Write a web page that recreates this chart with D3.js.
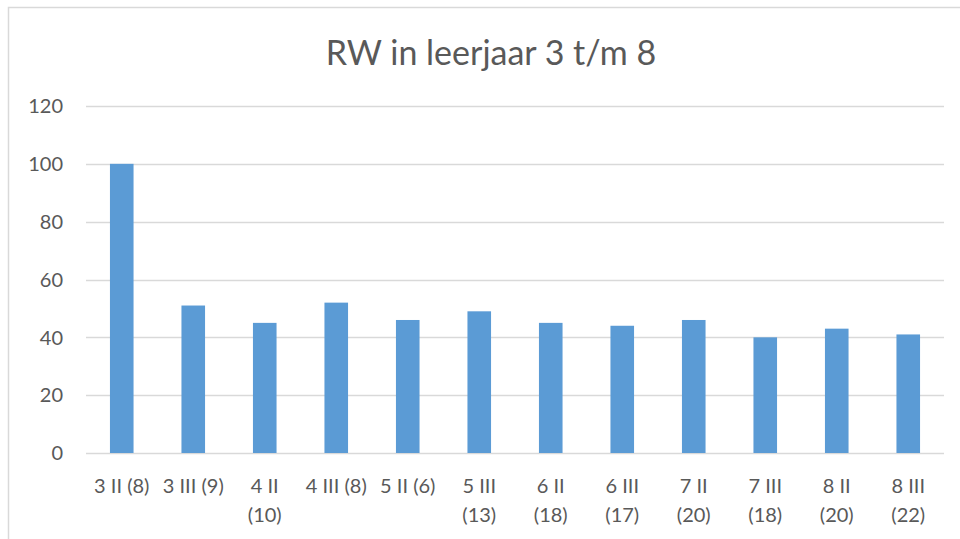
<!DOCTYPE html>
<html>
<head>
<meta charset="utf-8">
<script src="https://cdn.jsdelivr.net/npm/d3@7"></script>
<style>
  body { margin: 0; background: #fff; }
  svg { display: block; }
</style>
</head>
<body>
<svg class="chart"></svg>
<script>
// categorieën (met regelafbreking zoals in Excel) en waarden
var categories = ["3 II (8)", "3 III (9)", "4 II\n(10)", "4 III (8)", "5 II (6)", "5 III\n(13)",
  "6 II\n(18)", "6 III\n(17)", "7 II\n(20)", "7 III\n(18)", "8 II\n(20)", "8 III\n(22)"];
var values = [100, 51, 45, 52, 46, 49, 45, 44, 46, 40, 43, 41];
var yTicks = [0, 20, 40, 60, 80, 100, 120];
var title = "RW in leerjaar 3 t/m 8";

var width = 960;
var height = 539;
var font = "Lato, 'Open Sans', sans-serif";

var svg = d3.select(".chart").attr("width", width).attr("height", height);

// kader van de grafiek
svg.append("rect")
  .attr("x", 8.5).attr("y", 7.5)
  .attr("width", 1000).attr("height", 600)
  .attr("fill", "none")
  .attr("stroke", "#d9d9d9")
  .attr("stroke-width", 1.5);

var x = d3.scaleBand().domain(categories).range([86, 944]).paddingInner(0.67).paddingOuter(0.335);
var y = d3.scaleLinear().domain([0, 120]).range([453, 106]);

// rasterlijnen
svg.append("g")
  .selectAll("line")
  .data(yTicks)
  .enter()
  .append("line")
  .attr("x1", 86).attr("x2", 944)
  .attr("y1", function (d) { return Math.round(y(d)) + 0.5; })
  .attr("y2", function (d) { return Math.round(y(d)) + 0.5; })
  .attr("stroke", "#d9d9d9")
  .attr("stroke-width", 1.3);

// y-as labels
svg.append("g")
  .selectAll("text")
  .data(yTicks)
  .enter()
  .append("text")
  .attr("x", 63)
  .attr("y", function (d) { return y(d); })
  .attr("dy", "0.36em")
  .attr("text-anchor", "end")
  .attr("font-family", font)
  .attr("font-size", "20px")
  .attr("fill", "#595959")
  .text(function (d) { return d; });

// staven
svg.append("g")
  .selectAll("rect")
  .data(values)
  .enter()
  .append("rect")
  .attr("x", function (d, i) { return x(categories[i]); })
  .attr("y", function (d) { return y(d); })
  .attr("width", x.bandwidth())
  .attr("height", function (d) { return y(0) - y(d); })
  .attr("fill", "#5b9bd5");

// x-as labels
var labels = svg.append("g")
  .selectAll("text")
  .data(categories)
  .enter()
  .append("text")
  .attr("text-anchor", "middle")
  .attr("font-family", font)
  .attr("font-size", "20px")
  .attr("fill", "#595959")
  .attr("transform", function (d) {
    return "translate(" + (x(d) + x.bandwidth() / 2) + ",493)";
  });

labels.selectAll("tspan")
  .data(function (d) { return d.split("\n"); })
  .enter()
  .append("tspan")
  .attr("x", 0)
  .attr("y", function (d, i) { return i * 28.5; })
  .text(function (d) { return d; });

// titel
svg.append("text")
  .attr("x", 491)
  .attr("y", 65)
  .attr("text-anchor", "middle")
  .attr("font-family", font)
  .attr("font-size", "34px")
  .attr("fill", "#595959")
  .text(title);
</script>
</body>
</html>
